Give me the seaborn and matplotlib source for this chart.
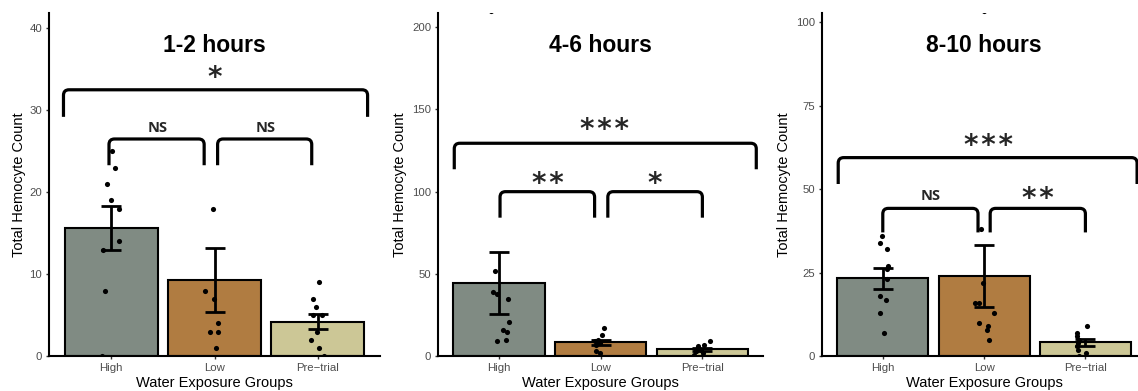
import numpy as np
import pandas as pd
import matplotlib
matplotlib.use("Agg")
import matplotlib.pyplot as plt
from matplotlib.path import Path
from matplotlib.patches import PathPatch
import seaborn as sns

# ---------------- data ----------------
groups = ["High", "Low", "Pre\u2212trial"]
colors = ["#808b83", "#b07c41", "#ccc796"]

titles = ["1-2 hours", "4-6 hours", "8-10 hours"]

means_12 = [15.65, 9.3, 4.2]
se_12 = [2.65, 3.95, 0.92]
means_46 = [44.3, 8.4, 4.3]
se_46 = [18.8, 1.4, 0.8]
means_810 = [23.3, 24.1, 4.2]
se_810 = [3.0, 9.2, 1.0]

pts_12_high = [25, 23, 21, 19, 18, 14, 13, 8, 0]
pts_12_low = [18, 8, 7, 4, 3, 3, 1, 42.3]
pts_12_pre = [9, 7, 6, 5, 5, 3, 2, 1, 0]

pts_46_high = [52, 39, 38, 35, 21, 16, 15, 10, 9, 209.6]
pts_46_low = [17, 13, 10, 9, 8, 8, 7, 3, 2]
pts_46_pre = [9, 7, 6, 5, 4, 3, 3, 2, 1]

pts_810_high = [36, 34, 32, 27, 26, 23, 18, 17, 13, 7]
pts_810_low = [38, 22, 16, 16, 13, 10, 9, 8, 5, 103.4]
pts_810_pre = [9, 7, 6, 5, 4, 3, 2, 1, 0]

y_ticks_12 = [0, 10, 20, 30, 40]
y_ticks_46 = [0, 50, 100, 150, 200]
y_ticks_810 = [0, 25, 50, 75, 100]

# significance labels: (x_start, x_end, y_top, y_bottom, label, label_x, label_y)
sig_12 = [(-0.46, 2.48, 32.5, 29.2, "*", 1.0, 34.3),
          (-0.02, 0.90, 26.5, 23.3, "NS", 0.45, 27.8),
          (1.03, 1.94, 26.5, 23.3, "NS", 1.49, 27.8)]
sig_46 = [(-0.44, 2.53, 129.4, 113.6, "***", 1.04, 139.3),
          (0.01, 0.94, 100.0, 84.2, "**", 0.48, 106.5),
          (1.07, 2.00, 100.0, 84.2, "*", 1.53, 106.5)]
sig_810 = [(-0.44, 2.51, 59.5, 51.6, "***", 1.04, 63.8),
           (0.00, 0.94, 44.3, 37.1, "NS", 0.47, 48.1),
           (1.06, 2.00, 44.3, 37.1, "**", 1.53, 48.1)]

panels = [
    (titles[0], means_12, se_12, [pts_12_high, pts_12_low, pts_12_pre], y_ticks_12, 41.9, sig_12),
    (titles[1], means_46, se_46, [pts_46_high, pts_46_low, pts_46_pre], y_ticks_46, 208.7, sig_46),
    (titles[2], means_810, se_810, [pts_810_high, pts_810_low, pts_810_pre], y_ticks_810, 102.9, sig_810),
]

# ---------------- layout ----------------
sns.set_theme(style="ticks")
plt.rcParams["font.family"] = ["Liberation Sans", "DejaVu Sans"]

W, H = 1138, 391
fig = plt.figure(figsize=(W / 100, H / 100), dpi=100)
ax_top, ax_bot = 12.7, 356.3
ax_px = [(49, 331.0), (438, 325.4), (822, 324.2)]
ylab_px = [19, 400, 784]

np.random.seed(3)


def bracket(ax, x1, x2, yt, yb, r=5.5, lw=2.3):
    inv = ax.transData.inverted()
    p0 = ax.transData.transform((x1, yt))
    rx = inv.transform((p0[0] + r, p0[1]))[0] - x1
    ry = yt - inv.transform((p0[0], p0[1] - r))[1]
    verts = [(x1, yb), (x1, yt - ry), (x1, yt), (x1 + rx, yt),
             (x2 - rx, yt), (x2, yt), (x2, yt - ry), (x2, yb)]
    codes = [Path.MOVETO, Path.LINETO, Path.CURVE3, Path.CURVE3,
             Path.LINETO, Path.CURVE3, Path.CURVE3, Path.LINETO]
    ax.add_patch(PathPatch(Path(verts, codes), fill=False, lw=lw, ec="black",
                           capstyle="butt", joinstyle="round", clip_on=False, zorder=6))


for i, (title, means, se, pts, yticks, ytop, sigs) in enumerate(panels):
    left, width = ax_px[i]
    ax = fig.add_axes([left / W, (H - ax_bot) / H, width / W, (ax_bot - ax_top) / H])

    sns.barplot(x=groups, y=means, hue=groups, palette=colors, order=groups,
                hue_order=groups, width=0.9, edgecolor="black", linewidth=1.5,
                saturation=1, errorbar=None, legend=False, ax=ax, zorder=2)

    df = pd.DataFrame({"group": np.repeat(groups, [len(p) for p in pts]),
                       "value": np.concatenate(pts)})
    sns.stripplot(data=df, x="group", y="value", order=groups, color="black",
                  size=3.7, jitter=0.1, ax=ax, zorder=4)

    ax.errorbar(x=np.arange(len(groups)), y=means, yerr=se, fmt="none",
                ecolor="black", elinewidth=2.0, capsize=7.2, capthick=2.0, zorder=5)

    ax.set_xlim(-0.6, 2.6)
    ax.set_ylim(0, ytop)
    ax.set_yticks(yticks)
    ax.set_yticklabels([str(t) for t in yticks])

    for s in ["top", "right"]:
        ax.spines[s].set_visible(False)
    for s in ["left", "bottom"]:
        ax.spines[s].set_linewidth(1.5)
        ax.spines[s].set_color("black")
    ax.tick_params(axis="both", length=2.4, width=1.0, color="#333333",
                   labelcolor="#4d4d4d", labelsize=8.2, pad=2.4)

    ax.set_xlabel("Water Exposure Groups", fontsize=10.5, color="black")
    ax.set_ylabel("Total Hemocyte Count", fontsize=10.5, color="black")
    ax.xaxis.set_label_coords(0.5, -(383 - ax_bot) / (ax_bot - ax_top))
    ax.xaxis.label.set_verticalalignment("center")
    ax.yaxis.set_label_coords((ylab_px[i] - left) / width, 0.5)
    ax.yaxis.label.set_verticalalignment("center")

    ax.text(0.5 + (214 - 214.5) / width, (ax_bot - 45.5) / (ax_bot - ax_top), title,
            transform=ax.transAxes, ha="center", va="center",
            fontsize=16.5, fontweight="bold", color="black")

    for (x1, x2, yt, yb, lab, lx, ly) in sigs:
        bracket(ax, x1, x2, yt, yb)
        if lab == "NS":
            ax.text(lx, ly, lab, ha="center", va="center", fontsize=10.5,
                    fontweight="bold", family=["Open Sans", "DejaVu Sans"], zorder=7)
        else:
            ax.text(lx, ly, "\u200a".join(lab), ha="center", va="center_baseline",
                    fontsize=20, fontweight="bold", family=["DejaVu Sans"], zorder=7)

fig.savefig("out.png", dpi=100)
